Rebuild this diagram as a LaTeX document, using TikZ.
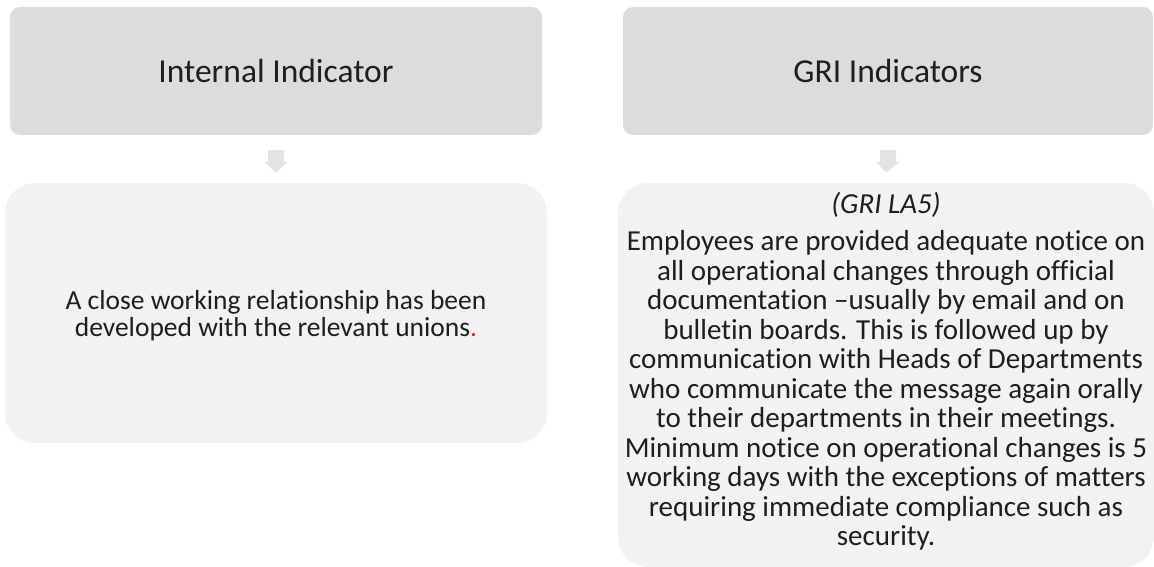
\documentclass[tikz,border=0pt]{standalone}
\usepackage{fontspec}
\setmainfont{Carlito}[Ligatures=NoCommon]
\usetikzlibrary{calc}
\definecolor{topgray}{HTML}{DCDCDC}
\definecolor{botgray}{HTML}{F2F2F2}
\definecolor{arrowgray}{HTML}{E4E4E4}
\definecolor{txt}{HTML}{1E1E1E}
\definecolor{dotred}{HTML}{E8231C}
\tikzset{
  headbox/.style={fill=topgray, draw=none, rounded corners=10pt, inner sep=0pt},
  bodybox/.style={fill=botgray, draw=none, rounded corners=30pt, inner sep=0pt},
  headtext/.style={text=txt, font=\fontsize{33.5}{38}\selectfont, inner sep=0pt},
  bodytext/.style={text=txt, align=center, inner sep=0pt},
}
\newcommand{\downarrowshape}[2]{%
  \fill[arrowgray] ($(#1.south)+(-8,15)$) -- ($(#1.south)+(8,15)$) -- ($(#1.south)+(8,27)$)
    -- ($(#1.south)+(11.5,27)$) -- ($(#2.north)+(0,-10)$) -- ($(#1.south)+(-11.5,27)$)
    -- ($(#1.south)+(-8,27)$) -- cycle;}
\begin{document}
\begin{tikzpicture}[x=1pt,y=-1pt]
\useasboundingbox (0,0) rectangle (1154,567);
\node[headbox, minimum width=532pt, minimum height=128pt] (h1) at (276,71) {};
\node[headbox, minimum width=530pt, minimum height=128pt] (h2) at (888,71) {};
\node[bodybox, minimum width=542pt, minimum height=260pt] (b1) at (276,313) {};
\node[bodybox, minimum width=536pt, minimum height=384pt] (b2) at (886,375) {};
\node[headtext] (t1) at (h1.center) {Internal Indicator};
\node[headtext] (t2) at (h2.center) {GRI Indicators};
\node[bodytext, font=\fontsize{27.5}{27}\selectfont] (x1) at (276,316) {A close working relationship has been\\developed with the relevant unions\textcolor{dotred}{.}};
\node[bodytext, font=\fontsize{29}{29.5}\selectfont, anchor=north] (x2) at (886,192) {\textit{(GRI LA5)}\\[8pt]Employees are provided adequate notice on\\all operational changes through official\\documentation –usually by email and on\\bulletin boards. This is followed up by\\communication with Heads of Departments\\who communicate the message again orally\\to their departments in their meetings.\\Minimum notice on operational changes is 5\\working days with the exceptions of matters\\requiring immediate compliance such as\\security.};
\downarrowshape{h1}{b1}
\downarrowshape{h2}{b2}
\end{tikzpicture}
\end{document}
